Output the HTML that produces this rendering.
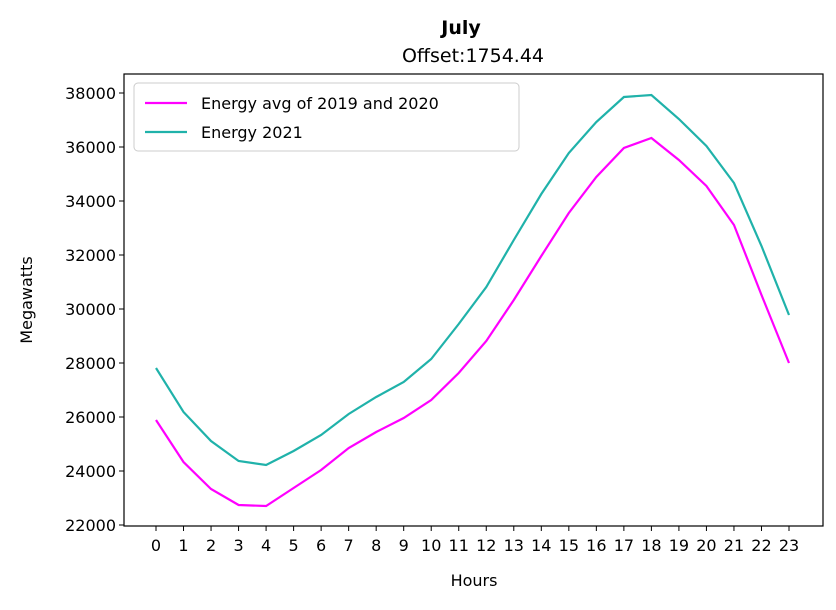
<!DOCTYPE html>
<html><head><meta charset="utf-8">
<style>
body{margin:0;background:#fff;font-family:"Liberation Sans","DejaVu Sans",sans-serif;}
svg text{font-family:"DejaVu Sans","Liberation Sans",sans-serif;}
</style></head>
<body>
<svg id="chart" width="836" height="605" xmlns="http://www.w3.org/2000/svg">
<rect width="836" height="605" fill="#fff"/>
<text x="461" y="34" text-anchor="middle" font-size="19" font-weight="bold">July</text>
<text x="473" y="62" text-anchor="middle" font-size="19">Offset:1754.44</text>
<g id="ticks"></g>
<g id="lines"></g>
<rect x="124" y="74" width="699" height="452" fill="none" stroke="#000" stroke-width="1.2"/>
<text x="474" y="586" text-anchor="middle" font-size="16">Hours</text>
<text transform="translate(32,300) rotate(-90)" text-anchor="middle" font-size="16">Megawatts</text>
<g>
<rect x="134" y="83" width="385" height="68" rx="4" fill="#fff" stroke="#ccc" stroke-width="1"/>
<line x1="145" y1="103" x2="187" y2="103" stroke="#ff00ff" stroke-width="2.2"/>
<text x="201" y="109" font-size="16">Energy avg of 2019 and 2020</text>
<line x1="145" y1="132" x2="187" y2="132" stroke="#20b2aa" stroke-width="2.2"/>
<text x="201" y="138" font-size="16">Energy 2021</text>
</g>
</svg>
<script>
const hours=[0,1,2,3,4,5,6,7,8,9,10,11,12,13,14,15,16,17,18,19,20,21,22,23];
const avgValues=[25889,24333,23333,22741,22704,23370,24037,24852,25444,25963,26630,27630,28815,30333,31963,33556,34889,35963,36333,35519,34556,33111,30519,28000];
const values2021=[27815,26185,25111,24370,24222,24741,25333,26111,26741,27296,28148,29444,30815,32556,34259,35778,36926,37852,37926,37037,36037,34667,32333,29778];
const yTicks=[22000,24000,26000,28000,30000,32000,34000,36000,38000];
const NS="http://www.w3.org/2000/svg";
function xs(h){return 156+h*(789-156)/23;}
function ys(v){return 525-(v-22000)*27/1000;}
const tg=document.getElementById('ticks');
function mk(tag,attrs,parent){const e=document.createElementNS(NS,tag);for(const k in attrs)e.setAttribute(k,attrs[k]);parent.appendChild(e);return e;}
yTicks.forEach(v=>{
  const y=ys(v);
  const l=mk('line',{x1:119,x2:124,y1:y,y2:y,stroke:'#000'},tg);
  
  
  const t=mk('text',{x:116,y:y+6,'text-anchor':'end','font-size':'16'},tg);
  t.textContent=v;
  
  
});
hours.forEach(h=>{
  const x=xs(h);
  const l=mk('line',{x1:x,x2:x,y1:526,y2:531,stroke:'#000'},tg);
  
  
  const t=mk('text',{x:x,y:551,'text-anchor':'middle','font-size':'16'},tg);
  t.textContent=h;
  
  
});
const lg=document.getElementById('lines');
function series(vals,color,name){
  const d=vals.map((v,i)=>(i?'L':'M')+xs(hours[i]).toFixed(1)+' '+ys(v).toFixed(1)).join(' ');
  const p=mk('path',{d:d,fill:'none',stroke:color,'stroke-width':'2.2'},lg);
  
  
}
series(avgValues,'#ff00ff','line-avg-2019-2020');
series(values2021,'#20b2aa','line-2021');
</script>
</body></html>
